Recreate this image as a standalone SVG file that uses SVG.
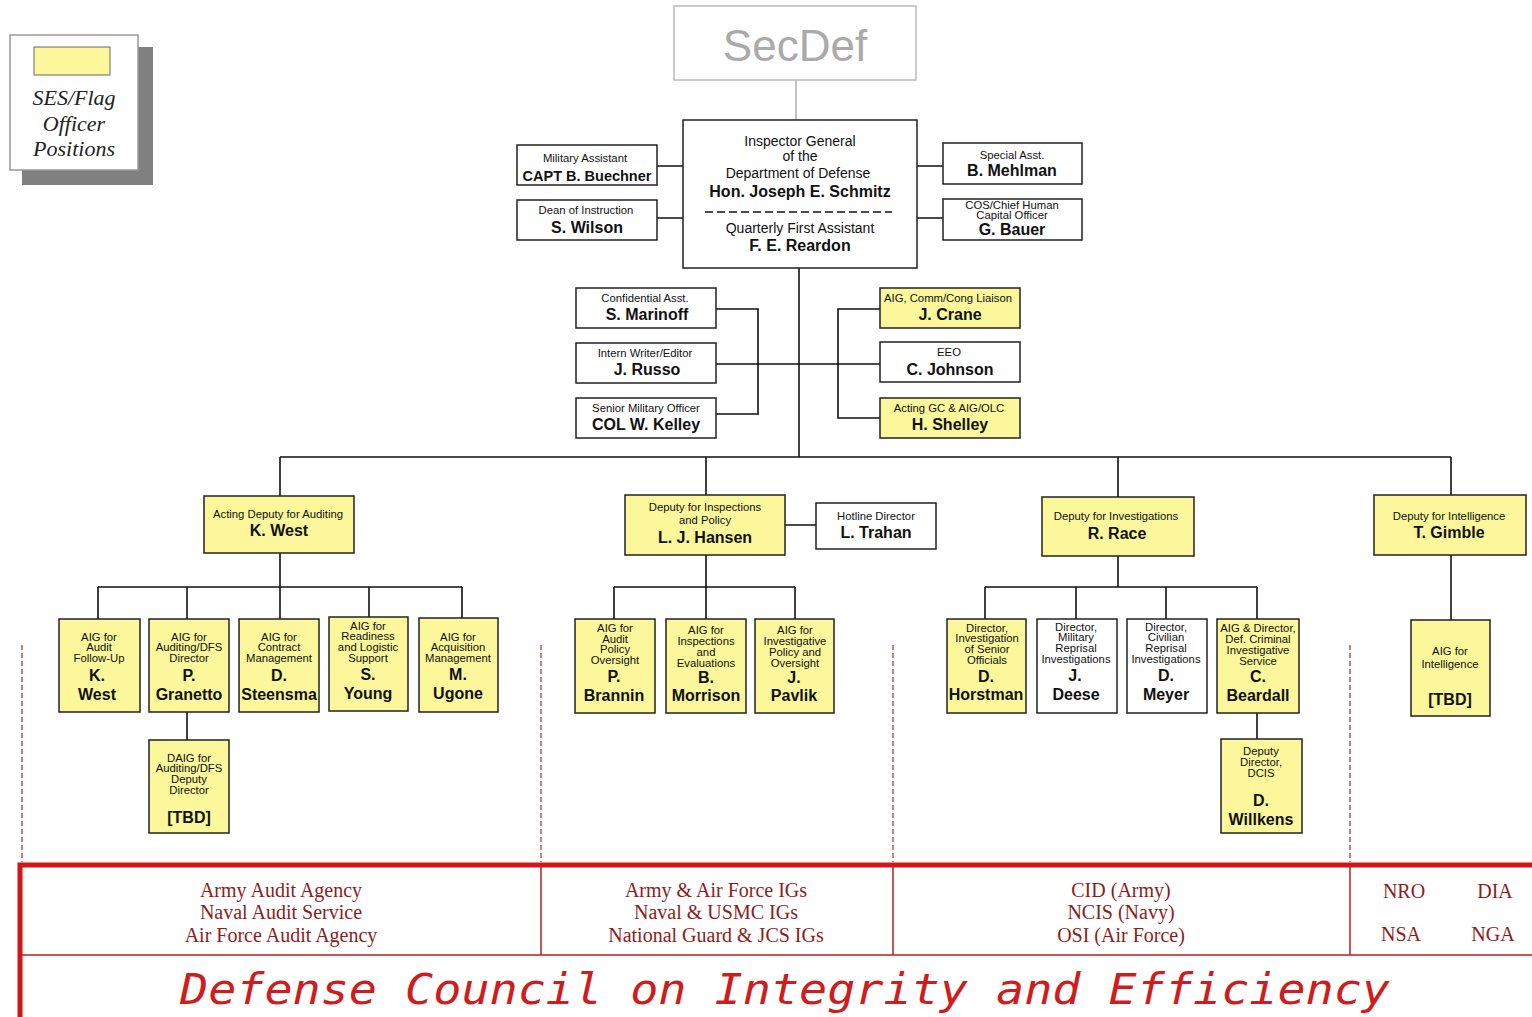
<svg xmlns="http://www.w3.org/2000/svg" width="1532" height="1017" viewBox="0 0 1532 1017">
<style>
.w{fill:#fff;stroke:#222;stroke-width:1.5}
.y{fill:#fbf79a;stroke:#222;stroke-width:1.5}
.s{font-family:"Liberation Sans",Arial,sans-serif;font-size:11.3px;fill:#111;text-anchor:middle}
.m{font-family:"Liberation Sans",Arial,sans-serif;font-size:14px;fill:#111;text-anchor:middle}
.b{font-family:"Liberation Sans",Arial,sans-serif;font-size:16px;font-weight:bold;fill:#111;text-anchor:middle}
.c{fill:none;stroke:#111;stroke-width:1.6}
.r{font-family:"Liberation Serif","Times New Roman",serif;font-size:20px;fill:#8e1c1c;text-anchor:middle}
.dash{stroke:#c82020;stroke-width:1.2;stroke-dasharray:5,3;fill:none}
</style>
<rect width="1532" height="1017" fill="#fff"/>
<g id="legend">
<rect x="22" y="47" width="131" height="138" fill="#808080"/>
<rect x="10" y="35" width="128" height="135" fill="#fff" stroke="#999" stroke-width="1.5"/>
<rect x="34" y="47" width="76" height="28" fill="#fbf79a" stroke="#666" stroke-width="1"/>
<g font-family="Liberation Serif,serif" font-style="italic" font-size="22" fill="#222" text-anchor="middle">
<text x="74" y="105">SES/Flag</text><text x="74" y="131">Officer</text><text x="74" y="156">Positions</text>
</g>
</g>
<g id="connectors">
<line x1="796" y1="80" x2="796" y2="120" stroke="#999" stroke-width="1.2"/>
<path class="c" d="M657 166H683M657 218H683M917 166H943M917 218H943"/>
<path class="c" d="M799 268V457"/>
<path class="c" d="M716 309H758V414H716M716 364H880M880 309H838V418H880"/>
<path class="c" d="M280 457H1451M280 457V496M706 457V495M1118 457V497M1451 457V495"/>
<path class="c" d="M280 553V587M98 587H462M98 587V619M187 587V619M280 587V619M369 587V617M462 587V618M187 712V740"/>
<path class="c" d="M785 525H816M706 555V587M614 587H795M614 587V619M706 587V619M795 587V619"/>
<path class="c" d="M1118 556V587M985 587H1257M985 587V619M1076 587V619M1166 587V619M1257 587V619M1257 713V739"/>
<path class="c" d="M1451 555V620"/>
</g>
<g id="secdef">
<rect x="674" y="6" width="242" height="74" fill="#fff" stroke="#bbb" stroke-width="1.5"/>
<text x="795" y="61" font-family="Liberation Sans,Arial,sans-serif" font-size="44" fill="#aaa" text-anchor="middle">SecDef</text>
</g>
<g id="ig">
<rect class="w" x="683" y="120" width="234" height="148"/>
<text class="m" x="800" y="146">Inspector General</text>
<text class="m" x="800" y="161">of the</text>
<text class="m" x="798" y="178">Department of Defense</text>
<text class="b" x="800" y="197">Hon. Joseph E. Schmitz</text>
<line x1="705" y1="212" x2="892" y2="212" stroke="#111" stroke-width="1.6" stroke-dasharray="8,4"/>
<text class="m" x="800" y="233">Quarterly First Assistant</text>
<text class="b" x="800" y="251">F. E. Reardon</text>
</g>
<g id="buechner"><rect class="w" x="517" y="145" width="140" height="40"/><text class="s" x="585" y="162">Military Assistant</text><text class="b" x="587" y="181" style="font-size:14.5px">CAPT B. Buechner</text></g>
<g id="wilson"><rect class="w" x="517" y="200" width="140" height="40"/><text class="s" x="586" y="214">Dean of Instruction</text><text class="b" x="587" y="233">S. Wilson</text></g>
<g id="mehlman"><rect class="w" x="943" y="143" width="139" height="41"/><text class="s" x="1012" y="159">Special Asst.</text><text class="b" x="1012" y="176">B. Mehlman</text></g>
<g id="bauer"><rect class="w" x="943" y="199" width="139" height="41"/><text class="s" x="1012" y="209">COS/Chief Human</text><text class="s" x="1012" y="219">Capital Officer</text><text class="b" x="1012" y="235">G. Bauer</text></g>
<g id="marinoff"><rect class="w" x="576" y="288" width="140" height="40"/><text class="s" x="645" y="302">Confidential Asst.</text><text class="b" x="647" y="320">S. Marinoff</text></g>
<g id="russo"><rect class="w" x="576" y="343" width="140" height="40"/><text class="s" x="645" y="357">Intern Writer/Editor</text><text class="b" x="647" y="375">J. Russo</text></g>
<g id="kelley"><rect class="w" x="576" y="398" width="140" height="40"/><text class="s" x="646" y="412">Senior Military Officer</text><text class="b" x="646" y="430">COL W. Kelley</text></g>
<g id="crane"><rect class="y" x="880" y="288" width="140" height="40"/><text class="s" x="948" y="302">AIG, Comm/Cong Liaison</text><text class="b" x="950" y="320">J. Crane</text></g>
<g id="johnson"><rect class="w" x="880" y="342" width="140" height="40"/><text class="s" x="949" y="356">EEO</text><text class="b" x="950" y="375">C. Johnson</text></g>
<g id="shelley"><rect class="y" x="880" y="398" width="140" height="40"/><text class="s" x="949" y="412">Acting GC &amp; AIG/OLC</text><text class="b" x="950" y="430">H. Shelley</text></g>
<g id="dep-audit"><rect class="y" x="204" y="496" width="150" height="57"/><text class="s" x="278" y="518">Acting Deputy for Auditing</text><text class="b" x="279" y="536">K. West</text></g>
<g id="kwest"><rect class="y" x="59" y="619" width="81" height="93"/><text class="s" x="99" y="641">AIG for</text><text class="s" x="99" y="651">Audit</text><text class="s" x="99" y="662">Follow-Up</text><text class="b" x="97" y="681">K.</text><text class="b" x="97" y="700">West</text></g>
<g id="granetto"><rect class="y" x="149" y="619" width="80" height="93"/><text class="s" x="189" y="641">AIG for</text><text class="s" x="189" y="651">Auditing/DFS</text><text class="s" x="189" y="662">Director</text><text class="b" x="189" y="681">P.</text><text class="b" x="189" y="700">Granetto</text></g>
<g id="steensma"><rect class="y" x="239" y="619" width="80" height="93"/><text class="s" x="279" y="641">AIG for</text><text class="s" x="279" y="651">Contract</text><text class="s" x="279" y="662">Management</text><text class="b" x="279" y="681">D.</text><text class="b" x="279" y="700">Steensma</text></g>
<g id="young"><rect class="y" x="329" y="617" width="79" height="94"/><text class="s" x="368" y="630">AIG for</text><text class="s" x="368" y="640">Readiness</text><text class="s" x="368" y="651">and Logistic</text><text class="s" x="368" y="662">Support</text><text class="b" x="368" y="680">S.</text><text class="b" x="368" y="699">Young</text></g>
<g id="ugone"><rect class="y" x="419" y="618" width="79" height="94"/><text class="s" x="458" y="641">AIG for</text><text class="s" x="458" y="651">Acquisition</text><text class="s" x="458" y="662">Management</text><text class="b" x="458" y="680">M.</text><text class="b" x="458" y="699">Ugone</text></g>
<g id="daig"><rect class="y" x="149" y="740" width="80" height="93"/><text class="s" x="189" y="762">DAIG for</text><text class="s" x="189" y="772">Auditing/DFS</text><text class="s" x="189" y="783">Deputy</text><text class="s" x="189" y="794">Director</text><text class="b" x="189" y="823">[TBD]</text></g>
<g id="dep-insp"><rect class="y" x="625" y="495" width="160" height="60"/><text class="s" x="705" y="511">Deputy for Inspections</text><text class="s" x="705" y="524">and Policy</text><text class="b" x="705" y="543">L. J. Hansen</text></g>
<g id="trahan"><rect class="w" x="816" y="503" width="120" height="46"/><text class="s" x="876" y="520">Hotline Director</text><text class="b" x="876" y="538">L. Trahan</text></g>
<g id="brannin"><rect class="y" x="575" y="619" width="80" height="94"/><text class="s" x="615" y="632">AIG for</text><text class="s" x="615" y="643">Audit</text><text class="s" x="615" y="653">Policy</text><text class="s" x="615" y="664">Oversight</text><text class="b" x="614" y="682">P.</text><text class="b" x="614" y="701">Brannin</text></g>
<g id="morrison"><rect class="y" x="666" y="619" width="80" height="94"/><text class="s" x="706" y="634">AIG for</text><text class="s" x="706" y="645">Inspections</text><text class="s" x="706" y="656">and</text><text class="s" x="706" y="667">Evaluations</text><text class="b" x="706" y="683">B.</text><text class="b" x="706" y="701">Morrison</text></g>
<g id="pavlik"><rect class="y" x="755" y="619" width="79" height="94"/><text class="s" x="795" y="634">AIG for</text><text class="s" x="795" y="645">Investigative</text><text class="s" x="795" y="656">Policy and</text><text class="s" x="795" y="667">Oversight</text><text class="b" x="794" y="683">J.</text><text class="b" x="794" y="701">Pavlik</text></g>
<g id="dep-inv"><rect class="y" x="1042" y="497" width="152" height="59"/><text class="s" x="1116" y="520">Deputy for Investigations</text><text class="b" x="1117" y="539">R. Race</text></g>
<g id="horstman"><rect class="y" x="947" y="619" width="79" height="94"/><text class="s" x="987" y="632">Director,</text><text class="s" x="987" y="642">Investigation</text><text class="s" x="987" y="653">of Senior</text><text class="s" x="987" y="664">Officials</text><text class="b" x="986" y="682">D.</text><text class="b" x="986" y="700">Horstman</text></g>
<g id="deese"><rect class="w" x="1037" y="619" width="80" height="94"/><text class="s" x="1076" y="631">Director,</text><text class="s" x="1076" y="641">Military</text><text class="s" x="1076" y="652">Reprisal</text><text class="s" x="1076" y="663">Investigations</text><text class="b" x="1075" y="681">J.</text><text class="b" x="1076" y="700">Deese</text></g>
<g id="meyer"><rect class="w" x="1127" y="619" width="80" height="94"/><text class="s" x="1166" y="631">Director,</text><text class="s" x="1166" y="641">Civilian</text><text class="s" x="1166" y="652">Reprisal</text><text class="s" x="1166" y="663">Investigations</text><text class="b" x="1166" y="681">D.</text><text class="b" x="1166" y="700">Meyer</text></g>
<g id="beardall"><rect class="y" x="1217" y="619" width="82" height="94"/><text class="s" x="1258" y="632">AIG &amp; Director,</text><text class="s" x="1258" y="643">Def. Criminal</text><text class="s" x="1258" y="654">Investigative</text><text class="s" x="1258" y="665">Service</text><text class="b" x="1258" y="682">C.</text><text class="b" x="1258" y="701">Beardall</text></g>
<g id="willkens"><rect class="y" x="1221" y="739" width="81" height="94"/><text class="s" x="1261" y="755">Deputy</text><text class="s" x="1261" y="766">Director,</text><text class="s" x="1261" y="777">DCIS</text><text class="b" x="1261" y="806">D.</text><text class="b" x="1261" y="825">Willkens</text></g>
<g id="dep-intel"><rect class="y" x="1374" y="495" width="152" height="60"/><text class="s" x="1449" y="520">Deputy for Intelligence</text><text class="b" x="1449" y="538">T. Gimble</text></g>
<g id="aig-intel"><rect class="y" x="1411" y="620" width="79" height="96"/><text class="s" x="1450" y="655">AIG for</text><text class="s" x="1450" y="668">Intelligence</text><text class="b" x="1450" y="705">[TBD]</text></g>
<g id="dividers">
<path class="dash" d="M22 645V862M541 645V862M893 645V862M1350 645V862"/>
</g>
<g id="dcie">
<rect x="20" y="865" width="1520" height="160" fill="#fff" stroke="#d41515" stroke-width="5"/>
<path d="M22 955H1532M541 867V955M893 867V955M1350 867V955" stroke="#b82020" stroke-width="1.5" fill="none"/>
<text class="r" x="281" y="897">Army Audit Agency</text>
<text class="r" x="281" y="919">Naval Audit Service</text>
<text class="r" x="281" y="942">Air Force Audit Agency</text>
<text class="r" x="716" y="897">Army &amp; Air Force IGs</text>
<text class="r" x="716" y="919">Naval &amp; USMC IGs</text>
<text class="r" x="716" y="942">National Guard &amp; JCS IGs</text>
<text class="r" x="1121" y="897">CID (Army)</text>
<text class="r" x="1121" y="919">NCIS (Navy)</text>
<text class="r" x="1121" y="942">OSI (Air Force)</text>
<text class="r" x="1404" y="898">NRO</text>
<text class="r" x="1495" y="898">DIA</text>
<text class="r" x="1401" y="941">NSA</text>
<text class="r" x="1493" y="941">NGA</text>
<text x="180" y="1004" font-family="DejaVu Sans Mono,Liberation Mono,monospace" font-style="italic" font-size="42" fill="#d01c1c" textLength="1210" lengthAdjust="spacingAndGlyphs">Defense Council on Integrity and Efficiency</text>
</g>
</svg>
